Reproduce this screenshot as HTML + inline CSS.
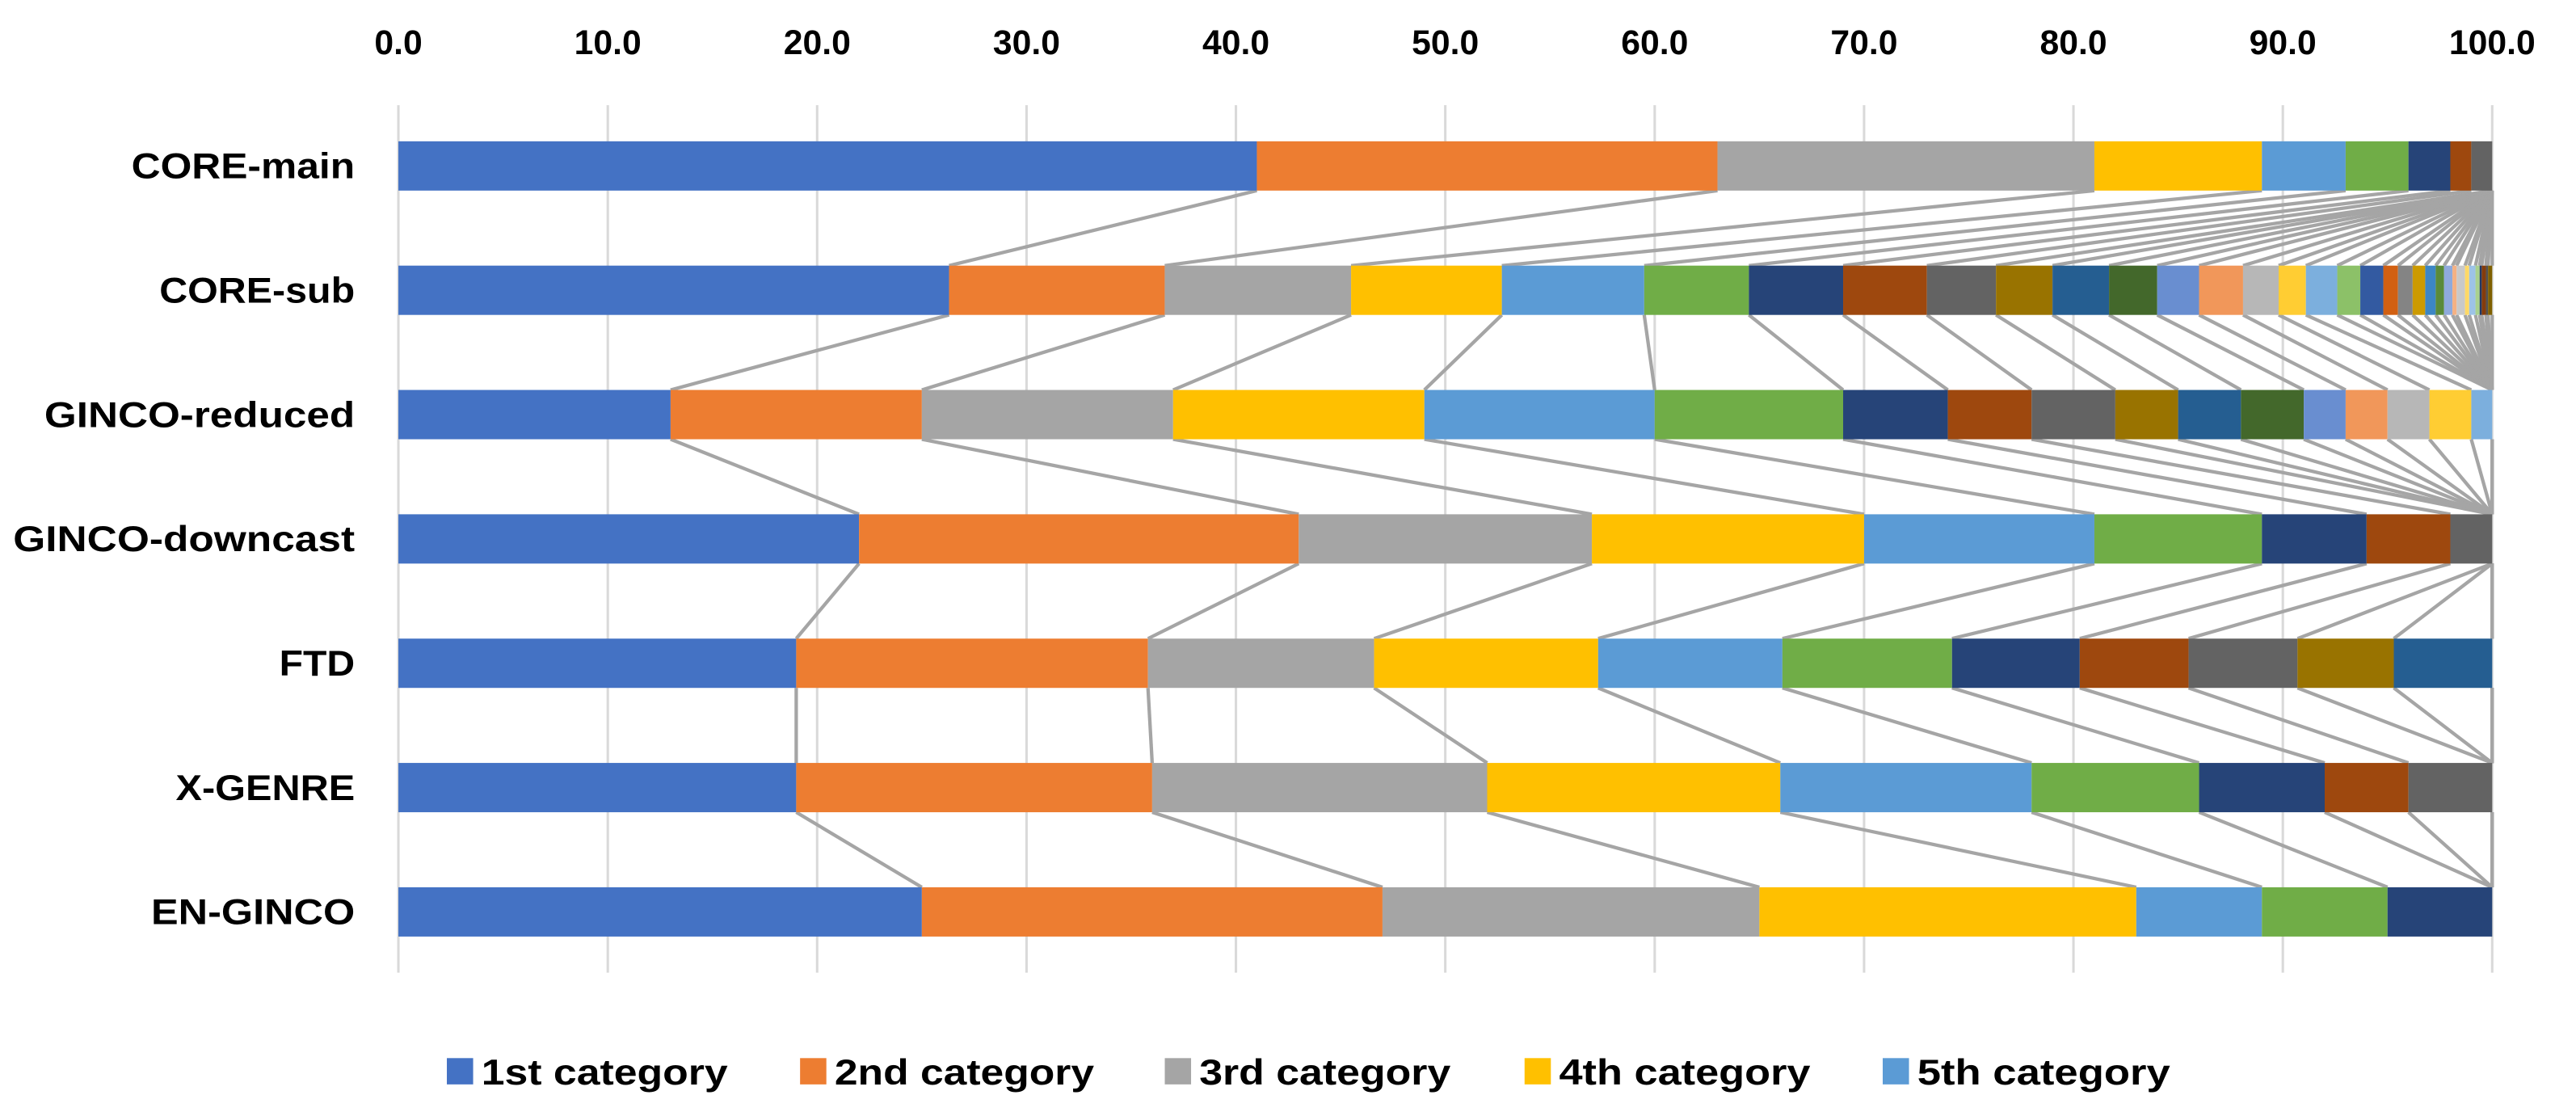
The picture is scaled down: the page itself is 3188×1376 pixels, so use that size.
<!DOCTYPE html>
<html><head><meta charset="utf-8"><style>
html,body{margin:0;padding:0;background:#fff;}
svg{display:block;}
text{font-family:"Liberation Sans",sans-serif;font-weight:bold;fill:#000;}
</style></head><body>
<svg id="chart" width="3188" height="1376" viewBox="0 0 1568 676.8" preserveAspectRatio="none" xmlns="http://www.w3.org/2000/svg">
<g id="grid"></g>
<g id="ticks"></g>
<g id="links"></g>
<g id="bars"></g>
<g id="labels"></g>
<g id="legend"></g>
</svg>
<script>
const categories = ["CORE-main","CORE-sub","GINCO-reduced","GINCO-downcast","FTD","X-GENRE","EN-GINCO"];
const coreMain = [41,22,18,8,4,3,2,1,1];
const coreSub = [26.3,10.3,8.9,7.2,6.8,5,4.5,4,3.3,2.7,2.7,2.3,2,2.1,1.7,1.3,1.5,1.1,1.1,0.7,0.7,0.6,0.5,0.4,0.4,0.2,0.4,0.2,0.3,0.2,0.1,0.2,0.1,0.2];
const gincoReduced = [13,12,12,12,11,9,5,4,4,3,3,3,2,2,2,2,1];
const gincoDowncast = [22,21,14,13,11,8,5,4,2];
const ftd = [19,16.8,10.8,10.7,8.8,8.1,6.1,5.2,5.2,4.6,4.7];
const xGenre = [19,17,16,14,12,8,6,4,4];
const enGinco = [25,22,18,18,6,6,5];
const seriesByRow = [coreMain, coreSub, gincoReduced, gincoDowncast, ftd, xGenre, enGinco];
const tickValues = [0,10,20,30,40,50,60,70,80,90,100];
const legendLabels = ["1st category","2nd category","3rd category","4th category","5th category"];
const palette = ["#4472C4","#ED7D31","#A5A5A5","#FFC000","#5B9BD5","#70AD47",
"#264478","#9E480E","#636363","#997300","#255E91","#43682B",
"#698ED0","#F1975A","#B7B7B7","#FFCD33","#7CAFDD","#8CC168",
"#335AA1","#D26012","#848484","#CC9A00","#3C86C4","#5A8A39",
"#8FAADC","#F4B183","#C9C9C9","#FFD966","#9DC3E6","#A9D18E",
"#203864","#843C0C","#525252","#7F6000"];
const NS="http://www.w3.org/2000/svg";
const X0=242.5, X1=1517;
const x = v => X0 + (X1-X0)*v/100;
const rowTop = i => 86 + i*75.67;
const BH = 30;
function mk(tag, attrs, parent){const e=document.createElementNS(NS,tag);for(const k in attrs)e.setAttribute(k,attrs[k]);parent.appendChild(e);return e;}
const grid=document.getElementById('grid'), ticks=document.getElementById('ticks'), bars=document.getElementById('bars'), links=document.getElementById('links'), labels=document.getElementById('labels'), legend=document.getElementById('legend');
tickValues.forEach(t=>{
  const l=mk('line',{x1:x(t),x2:x(t),y1:64,y2:592,stroke:'#d9d9d9','stroke-width':1.5},grid);
  
  
  const tx=mk('text',{x:x(t),y:33,'text-anchor':'middle','font-size':21},ticks);
  tx.textContent=t.toFixed(1);
  
  
});
const cums = seriesByRow.map(r=>{let c=0;return r.map(v=>(c+=v));});
const maxN = Math.max(...seriesByRow.map(r=>r.length));
for(let i=0;i<seriesByRow.length-1;i++){
  for(let k=0;k<maxN;k++){
    const a=Math.min(k<cums[i].length?cums[i][k]:100,100), b=Math.min(k<cums[i+1].length?cums[i+1][k]:100,100);
    const l=mk('line',{x1:x(a),y1:rowTop(i)+BH,x2:x(b),y2:rowTop(i+1),stroke:'#a5a5a5','stroke-width':2.1},links);
    
    
  }
}
const labelW=[136,119,189,208,46,109,124];
seriesByRow.forEach((row,i)=>{
  let c=0;
  row.forEach((v,k)=>{
    const r=mk('rect',{x:x(c),y:rowTop(i),width:x(c+v)-x(c),height:BH,fill:palette[k%palette.length]},bars);
    
    
    c+=v;
  });
  const t=mk('text',{x:216,y:rowTop(i)+BH/2+7.5,'text-anchor':'end','font-size':22,textLength:labelW[i],lengthAdjust:'spacingAndGlyphs'},labels);
  t.textContent=categories[i];
  
  
});
const legX=[272,487,709,928,1146], legW=[150,158,153,153,154];
legendLabels.forEach((s,k)=>{
  const g=mk('g',{},legend);
  
  
  mk('rect',{x:legX[k],y:644,width:16,height:16,fill:palette[k]},g);
  const t=mk('text',{x:legX[k]+21,y:660,'font-size':22,textLength:legW[k],lengthAdjust:'spacingAndGlyphs'},g);
  t.textContent=s;
});
</script>
</body></html>
